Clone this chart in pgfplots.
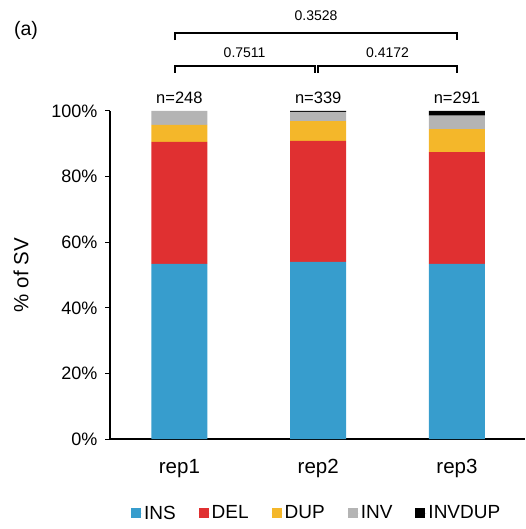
\documentclass[border=0pt]{standalone}
\usepackage{pgfplots}
\pgfplotsset{compat=1.18}
\usepackage{fontspec}
\setmainfont{Liberation Sans}

\definecolor{cINS}{RGB}{55,157,205}
\definecolor{cDEL}{RGB}{224,48,49}
\definecolor{cDUP}{RGB}{244,183,42}
\definecolor{cINV}{RGB}{180,180,180}
\definecolor{cINVDUP}{RGB}{0,0,0}

% share of each SV type per replicate (%)
\pgfplotstableread{
x   INS   DEL   DUP   INV   INVDUP
0   53.4  37.2  5.2   4.2   0.0
1   54.0  36.9  6.0   2.8   0.3
2   53.4  34.1  7.0   4.1   1.4
}\svdata

\begin{document}
\begin{tikzpicture}[x=1pt,y=1pt]
\path[use as bounding box] (0,0) rectangle (525,-529);
\node[font=\fontsize{19.5}{22}\selectfont, anchor=center] at (26,-30) {(a)};
\begin{axis}[
  at={(110pt,-439pt)}, anchor=south west,
  scale only axis, width=415pt, height=328pt,
  ybar stacked, bar width=56pt,
  xmin=-0.5, xmax=2.49, ymin=0, ymax=100,
  axis x line*=bottom, axis y line*=left,
  axis line style={line width=1.2pt},
  clip=false,
  /pgf/number format/assume math mode=true,
  xtick={0,1,2}, xticklabels={rep1,rep2,rep3},
  x tick style={draw=none},
  x tick label style={font=\fontsize{20.5}{24}\selectfont, yshift=-12pt},
  ytick={0,20,40,60,80,100},
  yticklabel={\pgfmathprintnumber{\tick}\%},
  y tick style={line width=1pt, black},
  tick align=outside, major tick length=5pt,
  y tick label style={font=\fontsize{18}{21}\selectfont, xshift=-4pt},
  ylabel={\% of SV},
  ylabel style={font=\fontsize{20.5}{24}\selectfont,
    at={(axis description cs:-0.2145,0.5)}, anchor=center},
  legend columns=5,
  legend style={draw=none, at={(0.498,-0.226)}, anchor=center,
    font=\fontsize{19}{22}\selectfont,
    /tikz/every even column/.append style={column sep=21pt}},
  legend image code/.code={\fill[#1] (0pt,-5pt) rectangle (10pt,5pt);
    \path (0pt,0pt) -- (11pt,0pt);},
]
\addplot[fill=cINS, draw=none] table[x=x, y=INS] {\svdata};
\addplot[fill=cDEL, draw=none] table[x=x, y=DEL] {\svdata};
\addplot[fill=cDUP, draw=none] table[x=x, y=DUP] {\svdata};
\addplot[fill=cINV, draw=none] table[x=x, y=INV] {\svdata};
\addplot[fill=cINVDUP, draw=none] table[x=x, y=INVDUP] {\svdata};
\legend{INS,DEL,DUP,INV,INVDUP}

% sample sizes
\node[font=\fontsize{16.5}{19}\selectfont] at (axis cs:0,104) {n=248};
\node[font=\fontsize{16.5}{19}\selectfont] at (axis cs:1,104) {n=339};
\node[font=\fontsize{16.5}{19}\selectfont] at (axis cs:2,104) {n=291};

% pairwise comparisons
\draw[line width=1.8pt] (axis cs:-0.03,111.6) -- (axis cs:-0.03,113.7) -- (axis cs:0.975,113.7) -- (axis cs:0.975,111.6);
\draw[line width=1.8pt] (axis cs:1.0,111.6) -- (axis cs:1.0,113.7) -- (axis cs:2.0,113.7) -- (axis cs:2.0,111.6);
\draw[line width=1.8pt] (axis cs:-0.03,121.6) -- (axis cs:-0.03,123.8) -- (axis cs:2.0,123.8) -- (axis cs:2.0,121.6);
\node[font=\fontsize{14}{16}\selectfont] at (axis cs:0.47,117.8) {0.7511};
\node[font=\fontsize{14}{16}\selectfont] at (axis cs:1.5,117.8) {0.4172};
\node[font=\fontsize{14}{16}\selectfont] at (axis cs:0.985,129.0) {0.3528};
\end{axis}
\end{tikzpicture}
\end{document}
